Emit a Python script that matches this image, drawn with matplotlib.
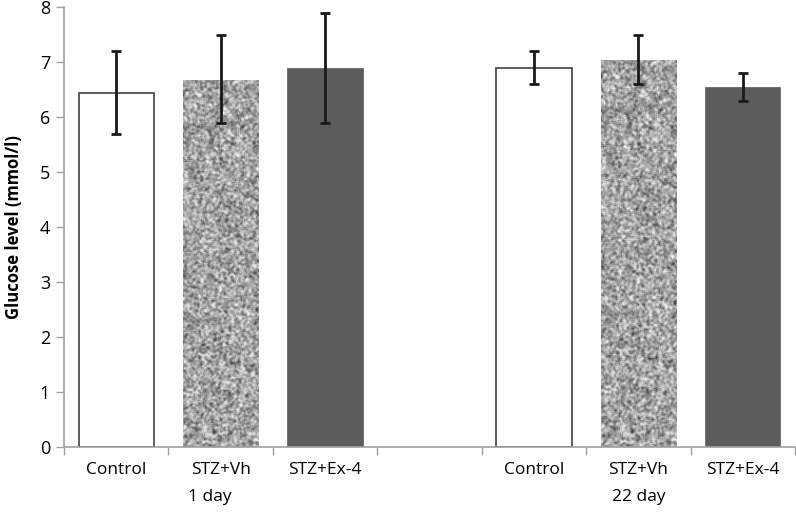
import numpy as np
import matplotlib
matplotlib.use("Agg")
import matplotlib.pyplot as plt

# ---- data ----
categories = ["Control", "STZ+Vh", "STZ+Ex-4", "", "Control", "STZ+Vh", "STZ+Ex-4"]
means = [6.44, 6.68, 6.90, np.nan, 6.89, 7.03, 6.54]
err_upper = [7.20, 7.50, 7.90, np.nan, 7.20, 7.50, 6.80]
err_lower = [5.70, 5.90, 5.90, np.nan, 6.60, 6.60, 6.30]
fills = ["white", "texture", "dark", None, "white", "texture", "dark"]
group_labels = ["1 day", "22 day"]
group_label_cat = [1, 5]
y_ticks = [0, 1, 2, 3, 4, 5, 6, 7, 8]

plt.rcParams['font.family'] = ['Open Sans', 'DejaVu Sans']

fig = plt.figure(figsize=(7.96, 5.12), dpi=100)
ax = fig.add_axes([64/796, (512-447)/512, (795-64)/796, (447-7)/512])

x = np.arange(len(categories))
width = 0.72
means_arr = np.array(means, dtype=float)

# deterministic texture image (styling only)
rng = np.random.default_rng(7)
noise = rng.random((400, 80))
sm = np.zeros_like(noise)
for dy in (-1, 0, 1):
    for dx in (-1, 0, 1):
        sm += np.roll(np.roll(noise, dy, 0), dx, 1) / 9.0
sm = (sm - sm.mean()) / sm.std()
tex = np.clip(0.64 + 0.12 * sm, 0.25, 0.95)

for xi, m, f in zip(x, means_arr, fills):
    if f is None or np.isnan(m):
        continue
    left = xi - width / 2
    if f == "white":
        ax.bar(xi, m, width=width, color="white", edgecolor="#505050", linewidth=1.3, zorder=2)
    elif f == "dark":
        ax.bar(xi, m, width=width, color="#5c5c5c", edgecolor="#5c5c5c", linewidth=0.5, zorder=2)
    else:
        bars = ax.bar(xi, m, width=width, color="none", edgecolor="none", zorder=2)
        im = ax.imshow(tex, cmap="gray", vmin=0, vmax=1, extent=[left, left + width, 0, m],
                       aspect="auto", interpolation="bilinear", zorder=2)
        im.set_clip_path(bars.patches[0])

valid = ~np.isnan(means_arr)
yerr = np.array([means_arr - np.array(err_lower), np.array(err_upper) - means_arr])
ax.errorbar(x[valid], means_arr[valid], yerr=yerr[:, valid], fmt="none", ecolor="#1a1a1a",
            elinewidth=2.0, capsize=3.5, capthick=2.0, zorder=3)

ax.set_xlim(-0.5, len(categories) - 0.5)
ax.set_ylim(0, 8)
ax.set_yticks(y_ticks)
ax.set_yticklabels([str(t) for t in y_ticks], fontsize=13)

ax.set_xticks(x)
ax.set_xticklabels(categories, fontsize=12.5)
ax.tick_params(axis="x", which="major", length=0, pad=11)
ax.set_xticks(np.arange(-0.5, len(categories), 1.0), minor=True)
ax.tick_params(axis="x", which="minor", length=6, color="#a0a0a0", width=1)
ax.tick_params(axis="y", length=6, color="#a0a0a0", width=1, pad=4)

for s in ["top", "right"]:
    ax.spines[s].set_visible(False)
for s in ["left", "bottom"]:
    ax.spines[s].set_color("#a0a0a0")
    ax.spines[s].set_linewidth(1.2)

for lbl, c in zip(group_labels, group_label_cat):
    off = -0.1 if lbl == "1 day" else 0.0
    ax.text(c + off, -0.095, lbl, transform=ax.get_xaxis_transform(), ha="center", va="top",
            fontsize=12.5)

ax.set_ylabel("Glucose level (mmol/l)", fontsize=12, fontweight="bold", labelpad=12)

fig.savefig("out.png", dpi=100)
